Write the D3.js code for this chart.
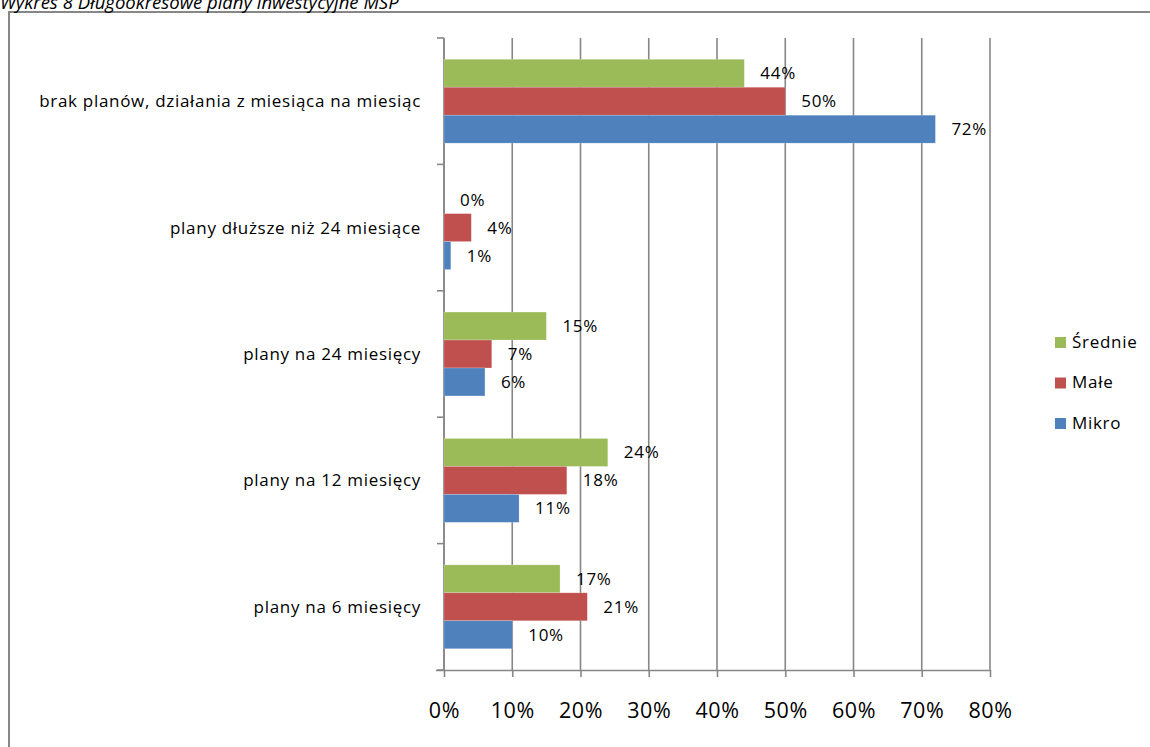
<!DOCTYPE html>
<html>
<head>
<meta charset="utf-8">
<script src="https://cdn.jsdelivr.net/npm/d3@7"></script>
<style>
  html, body { margin: 0; padding: 0; background: #fff; }
  svg { display: block; font-family: "Open Sans", Lato, sans-serif; }
</style>
</head>
<body>
<svg id="chart" width="1150" height="747"></svg>
<script>
// Długookresowe plany inwestycyjne MŚP — values in percent
const categories = [
  "brak planów, działania z miesiąca na miesiąc",
  "plany dłuższe niż 24 miesiące",
  "plany na 24 miesięcy",
  "plany na 12 miesięcy",
  "plany na 6 miesięcy"
];
const seriesNames = ["Średnie", "Małe", "Mikro"];
const srednie = [44, 0, 15, 24, 17];
const male = [50, 4, 7, 18, 21];
const mikro = [72, 1, 6, 11, 10];
const xTicks = [0, 10, 20, 30, 40, 50, 60, 70, 80];
const colors = ["#9BBB59", "#C0504D", "#4F81BD"];

const seriesValues = [srednie, male, mikro];
const rows = categories.map((c, i) => ({
  category: c,
  values: seriesNames.map((s, j) => ({ series: s, value: seriesValues[j][i] }))
}));

const svg = d3.select("#chart");
const grid = "#878787";
const font = "'Open Sans', Lato, sans-serif";
const labelSize = 17;
const labelSpacing = 0.7;

// chart frame
svg.append("rect")
  .attr("x", 9).attr("y", 12)
  .attr("width", 1160).attr("height", 760)
  .attr("fill", "#fff").attr("stroke", grid).attr("stroke-width", 2);

// title (sits above the frame, partly clipped by the page top)
svg.append("text")
  .attr("x", 0).attr("y", 9)
  .attr("font-size", 18.5).attr("font-style", "italic")
  .attr("fill", "#000")
  .text("Wykres 8 Długookresowe plany inwestycyjne MŚP");

const x = d3.scaleLinear().domain([0, 80]).range([444, 990]);
const y = d3.scaleBand().domain(categories).range([38, 670]).paddingInner(0).paddingOuter(0);
const y1 = d3.scaleBand().domain(seriesNames).range([0, y.bandwidth()]).paddingInner(0).paddingOuter(0.76);

// vertical gridlines
svg.append("g").selectAll("line").data(xTicks).join("line")
  .attr("x1", d => x(d)).attr("x2", d => x(d))
  .attr("y1", 38).attr("y2", 670)
  .attr("stroke", grid).attr("stroke-width", 1.6);

// bottom axis
const xAxis = svg.append("g")
  .attr("transform", "translate(0,670)")
  .call(d3.axisBottom(x).tickValues(xTicks).tickSize(7).tickPadding(26).tickFormat(d => d + "%"));
xAxis.select(".domain").attr("d", `M${x(0) - 8},0.5H${x(80)}`).attr("stroke", grid).attr("stroke-width", 1.6);
xAxis.selectAll(".tick line").attr("stroke", grid).attr("stroke-width", 1.6);
xAxis.selectAll(".tick text").attr("font-size", 21.5).attr("fill", "#000")
  .attr("letter-spacing", 0.6)
  .attr("font-family", font);

// left axis: ticks on band boundaries
const bounds = categories.map(c => y(c)).concat([y.range()[1]]);
svg.append("line")
  .attr("x1", x(0)).attr("x2", x(0)).attr("y1", 38).attr("y2", 670)
  .attr("stroke", grid).attr("stroke-width", 1.6);
svg.append("g").selectAll("line").data(bounds).join("line")
  .attr("x1", x(0) - 7).attr("x2", x(0))
  .attr("y1", d => d).attr("y2", d => d)
  .attr("stroke", grid).attr("stroke-width", 1.6);

// category labels
svg.append("g").selectAll("text").data(categories).join("text")
  .attr("x", 421)
  .attr("y", d => y(d) + y.bandwidth() / 2)
  .attr("dy", "0.35em")
  .attr("text-anchor", "end")
  .attr("font-size", labelSize).attr("letter-spacing", labelSpacing).attr("fill", "#000")
  .text(d => d);

// bars
const groups = svg.append("g").selectAll("g").data(rows).join("g")
  .attr("transform", d => `translate(0,${y(d.category)})`);

groups.selectAll("rect").data(d => d.values).join("rect")
  .attr("x", x(0))
  .attr("y", d => y1(d.series))
  .attr("width", d => x(d.value) - x(0))
  .attr("height", y1.bandwidth())
  .attr("fill", (d, i) => colors[i])
  .attr("stroke", "#fff").attr("stroke-opacity", 0.35).attr("stroke-width", 0.6);

// value labels
groups.selectAll("text").data(d => d.values).join("text")
  .attr("x", d => x(d.value) + 16)
  .attr("y", d => y1(d.series) + y1.bandwidth() / 2)
  .attr("dy", "0.35em")
  .attr("font-size", labelSize).attr("letter-spacing", labelSpacing).attr("fill", "#000")
  .text(d => d.value + "%");

// legend
const legend = svg.append("g").selectAll("g").data(seriesNames).join("g")
  .attr("transform", (d, i) => `translate(1055,${342 + i * 40.5})`);
legend.append("rect")
  .attr("x", 0).attr("y", -5).attr("width", 11).attr("height", 11)
  .attr("fill", (d, i) => colors[i]);
legend.append("text")
  .attr("x", 17).attr("y", 0).attr("dy", "0.35em")
  .attr("font-size", labelSize).attr("letter-spacing", labelSpacing).attr("fill", "#000")
  .text(d => d);
</script>
</body>
</html>
